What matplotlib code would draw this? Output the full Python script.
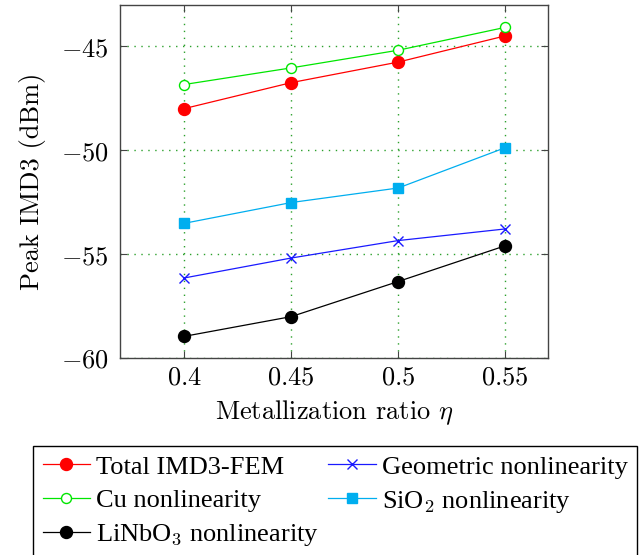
import matplotlib
matplotlib.use('Agg')
import matplotlib.pyplot as plt
from matplotlib.ticker import FixedLocator, FuncFormatter

plt.rcParams['mathtext.fontset'] = 'cm'
plt.rcParams['axes.unicode_minus'] = True

# metallization ratio and peak IMD3 (dBm) per contribution
eta = [0.4, 0.45, 0.5, 0.55]
total_fem = [-48.0, -46.75, -45.76, -44.5]
cu_nl = [-46.84, -46.04, -45.19, -44.09]
linbo3_nl = [-58.96, -58.01, -56.32, -54.6]
geometric_nl = [-56.15, -55.19, -54.35, -53.79]
sio2_nl = [-53.52, -52.52, -51.82, -49.88]

xticks = [0.4, 0.45, 0.5, 0.55]
yticks = [-60, -55, -50, -45]

fig = plt.figure(figsize=(6.43, 5.55), dpi=100)
ax = fig.add_axes([0.1866, 0.355, 0.8523 - 0.1866, 0.9915 - 0.355])

lw = 0.9
h_total, = ax.plot(eta, total_fem, color='#ff0000', lw=lw, marker='o', ms=8.6,
                   label='Total IMD3-FEM')
h_cu, = ax.plot(eta, cu_nl, color='#00e600', lw=lw, marker='o', ms=7.2, mfc='white',
                mew=1.0, label='Cu nonlinearity')
h_lin, = ax.plot(eta, linbo3_nl, color='black', lw=lw, marker='o', ms=8.6,
                 label=r'LiNbO$_3$ nonlinearity')
h_geo, = ax.plot(eta, geometric_nl, color='#1a1aff', lw=lw, marker='x', ms=6.5, mew=1.0,
                 label='Geometric nonlinearity')
h_sio, = ax.plot(eta, sio2_nl, color='#00aeef', lw=lw, marker='s', ms=7.8,
                 label=r'SiO$_2$ nonlinearity')

ax.set_xlim(0.37, 0.57)
ax.set_ylim(-60, -43)
ax.xaxis.set_major_locator(FixedLocator(xticks))
ax.yaxis.set_major_locator(FixedLocator(yticks))
ax.xaxis.set_major_formatter(FuncFormatter(lambda v, p: '$%g$' % v))
ax.yaxis.set_major_formatter(FuncFormatter(lambda v, p: '$%d$' % v))
ax.tick_params(direction='in', length=5, width=0.8, color='#444444',
               top=True, right=True, labelsize=19)
ax.tick_params(axis='x', pad=5)
ax.tick_params(axis='y', pad=8)
ax.grid(True, color='#2ca02c', linestyle=(0, (1, 4)), linewidth=1.0)
for s in ax.spines.values():
    s.set_color('#444444')
    s.set_linewidth(1.0)

ax.set_xlabel(r'Metallization ratio $\eta$', fontsize=19, family='cmr10', labelpad=5)
ax.set_ylabel('Peak IMD3 (dBm)', fontsize=19, family='cmr10', labelpad=11)

leg = fig.legend(handles=[h_total, h_cu, h_lin, h_geo, h_sio], ncol=2,
                 loc='upper center', bbox_to_anchor=(0.521, 0.197),
                 prop={'family': 'Liberation Serif', 'size': 19},
                 frameon=True, fancybox=False, edgecolor='black', framealpha=1,
                 handlelength=1.8, handletextpad=0.22, columnspacing=0.36,
                 labelspacing=0.38, borderpad=0.36, borderaxespad=0)
leg.get_frame().set_linewidth(1.0)

fig.savefig('out.png', dpi=100)
